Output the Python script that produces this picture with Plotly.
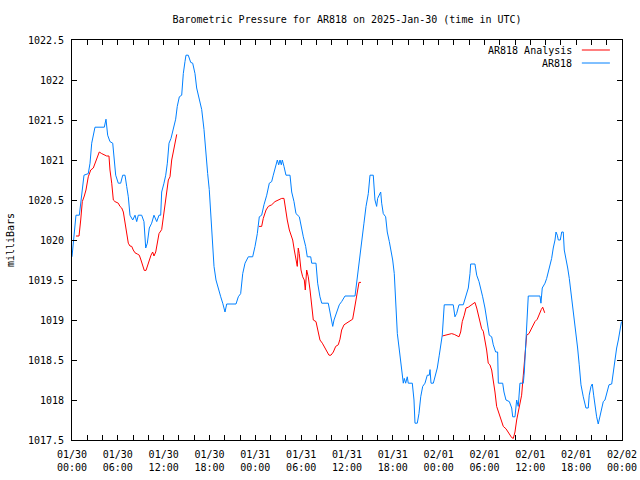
import pandas as pd
import plotly.graph_objects as go

BASE = pd.Timestamp("2025-01-30 00:00")

# AR818 observed pressure (hours since 2025-01-30 00:00 UTC, millibars)
obs_hours = [0.0, 0.30, 0.52, 0.96, 1.27, 1.57, 2.13, 2.36, 2.58, 2.79, 3.01, 4.23, 4.45, 4.67, 4.97, 5.33,
             5.54, 5.72, 6.06, 6.37, 6.64, 6.94, 7.16, 7.37, 7.59, 7.95, 8.25, 8.47, 8.68, 9.12, 9.42, 9.65,
             9.86, 10.12, 10.43, 10.73, 11.09, 11.39, 11.61, 11.74, 12.04, 12.27, 12.48, 12.70, 12.96, 13.26,
             13.57, 13.78, 14.05, 14.36, 14.57, 14.79, 14.92, 15.22, 15.54, 15.80, 16.10, 16.32, 16.66, 16.98,
             17.28, 17.54, 17.76, 17.97, 18.16, 18.29, 18.42, 18.59, 18.85, 19.15, 19.47, 19.73, 20.03, 20.25,
             21.47, 21.77, 22.08, 22.35, 22.65, 23.08, 23.65, 23.96, 24.26, 24.52, 24.83, 25.13, 25.49, 25.83,
             26.14, 26.35, 26.61, 26.88, 27.06, 27.23, 27.40, 27.53, 27.75, 28.01, 28.54, 28.76, 29.06, 29.32,
             29.76, 29.98, 30.28, 30.59, 30.80, 31.25, 31.38, 31.94, 32.16, 32.46, 32.69, 33.55, 33.77, 34.13,
             34.30, 34.65, 34.99, 35.30, 35.74, 37.05, 37.27, 37.57, 37.92, 38.22, 38.49, 38.79, 39.01, 39.44,
             39.66, 39.88, 40.01, 40.23, 40.41, 40.54, 40.75, 41.06, 41.27, 41.54, 41.76, 41.98, 42.19, 42.41,
             42.59, 42.85, 43.07, 43.20, 43.37, 43.50, 43.68, 43.89, 44.02, 44.55, 44.77, 44.90, 45.20, 45.42,
             45.65, 45.91, 46.21, 46.51, 46.77, 46.87, 47.00, 47.30, 47.52, 47.82, 48.08, 48.26, 48.47, 48.60,
             48.73, 49.91, 50.13, 50.35, 50.66, 51.22, 51.54, 51.88, 52.10, 52.19, 52.75, 52.98, 53.28, 53.54,
             53.76, 54.06, 54.36, 54.62, 54.94, 55.15, 55.46, 55.72, 55.81, 56.38, 56.55, 56.81, 57.25, 57.56,
             57.69, 57.99, 58.21, 58.42, 58.64, 59.08, 59.21, 59.39, 59.60, 59.73, 61.26, 61.39, 61.56, 61.92,
             62.14, 62.35, 62.57, 62.79, 63.00, 63.23, 63.36, 63.53, 63.66, 63.92, 64.11, 64.31, 64.44, 64.67,
             64.89, 65.10, 65.32, 65.54, 65.75, 65.97, 66.19, 66.40, 66.63, 66.93, 67.28, 67.58, 67.71, 67.94,
             68.11, 68.29, 68.46, 68.68, 68.89, 69.12, 69.34, 69.55, 69.77, 70.00, 70.30, 70.65, 70.86, 71.08,
             71.30, 71.52, 71.74, 71.93]
obs_mb = [1019.79, 1020.08, 1020.31, 1020.31, 1020.54, 1020.81, 1020.83, 1020.96, 1021.21, 1021.31, 1021.41,
          1021.41, 1021.51, 1021.31, 1021.23, 1021.21, 1021.00, 1020.81, 1020.71, 1020.71, 1020.81, 1020.81,
          1020.67, 1020.54, 1020.31, 1020.25, 1020.31, 1020.23, 1020.31, 1020.31, 1020.23, 1019.90, 1019.96,
          1020.15, 1020.21, 1020.31, 1020.23, 1020.31, 1020.31, 1020.60, 1020.71, 1020.81, 1020.96, 1021.21,
          1021.27, 1021.41, 1021.51, 1021.67, 1021.79, 1021.81, 1022.08, 1022.23, 1022.31, 1022.31, 1022.22,
          1022.21, 1022.08, 1021.90, 1021.75, 1021.63, 1021.38, 1021.04, 1020.83, 1020.63, 1020.35, 1020.10,
          1019.85, 1019.67, 1019.50, 1019.38, 1019.29, 1019.21, 1019.10, 1019.20, 1019.20, 1019.29, 1019.33,
          1019.58, 1019.71, 1019.79, 1019.79, 1019.92, 1020.08, 1020.29, 1020.31, 1020.44, 1020.56, 1020.71,
          1020.73, 1020.81, 1020.92, 1021.00, 1020.94, 1021.00, 1020.94, 1021.00, 1020.92, 1020.81, 1020.81,
          1020.60, 1020.48, 1020.33, 1020.29, 1020.17, 1020.04, 1019.92, 1019.79, 1019.79, 1019.71, 1019.71,
          1019.46, 1019.29, 1019.21, 1019.21, 1019.08, 1018.92, 1019.00, 1019.10, 1019.19, 1019.23, 1019.30,
          1019.30, 1019.46, 1019.71, 1020.00, 1020.21, 1020.42, 1020.58, 1020.81, 1020.81, 1020.50, 1020.42,
          1020.52, 1020.56, 1020.60, 1020.46, 1020.33, 1020.29, 1020.10, 1019.98, 1019.875, 1019.75, 1019.58,
          1019.08, 1018.83, 1018.625, 1018.46, 1018.35, 1018.21, 1018.27, 1018.21, 1018.29, 1018.21, 1018.21,
          1018.00, 1017.71, 1017.71, 1017.83, 1018.04, 1018.17, 1018.21, 1018.31, 1018.31, 1018.38, 1018.21,
          1018.21, 1018.29, 1018.40, 1018.56, 1018.69, 1018.81, 1019.00, 1019.19, 1019.19, 1019.04, 1019.08,
          1019.19, 1019.19, 1019.29, 1019.40, 1019.58, 1019.70, 1019.70, 1019.56, 1019.48, 1019.35, 1019.29,
          1019.15, 1018.98, 1018.81, 1018.79, 1018.69, 1018.60, 1018.60, 1018.21, 1018.21, 1018.10, 1018.00,
          1017.98, 1017.90, 1017.79, 1017.79, 1018.00, 1017.92, 1018.21, 1018.21, 1018.35, 1018.67, 1018.98,
          1019.30, 1019.30, 1019.21, 1019.40, 1019.46, 1019.52, 1019.60, 1019.71, 1019.77, 1019.90, 1020.00,
          1020.10, 1020.06, 1020.00, 1020.00, 1020.10, 1020.10, 1019.875, 1019.77, 1019.65, 1019.52, 1019.35,
          1019.19, 1019.02, 1018.85, 1018.65, 1018.44, 1018.19, 1018.04, 1017.90, 1017.90, 1018.06, 1018.17,
          1018.20, 1018.06, 1017.92, 1017.79, 1017.70, 1017.81, 1017.90, 1017.98, 1018.00, 1018.10, 1018.19,
          1018.20, 1018.35, 1018.52, 1018.65, 1018.75, 1018.85, 1018.98]

# AR818 analysis (three runs, gaps between them)
ana_hours = [0.52, 0.92, 1.14, 1.35, 1.61, 1.83, 2.13, 2.45, 2.79, 3.10, 3.36, 3.57, 3.89, 4.23, 4.54, 4.84,
             4.97, 5.20, 5.41, 5.63, 6.06, 6.28, 6.51, 6.72, 6.94, 7.16, 7.37, 7.59, 7.82, 8.02, 8.25, 8.55,
             8.81, 9.03, 9.25, 9.46, 9.69, 9.91, 10.12, 10.34, 10.56, 10.73, 10.96, 11.17, 11.39, 11.74, 11.95,
             12.21, 12.40, 12.61, 12.83, 13.05, 13.26, 13.48, 13.71,
             None,
             24.48, 24.83, 25.04, 25.40, 25.70, 26.14, 26.57, 27.01, 27.45, 27.75, 27.97, 28.18, 28.45, 28.67,
             28.89, 29.10, 29.32, 29.49, 29.62, 29.75, 29.98, 30.20, 30.41, 30.54, 30.72, 30.93, 31.16, 31.38,
             31.59, 31.94, 32.16, 32.46, 32.77, 33.12, 33.42, 33.64, 33.90, 34.21, 34.52, 34.86, 35.08, 35.30,
             35.61, 35.96, 36.39, 36.74, 36.95, 37.18, 37.35, 37.57, 37.83,
             None,
             48.47, 48.83, 49.26, 49.70, 50.04, 50.35, 50.66, 50.88, 51.09, 51.35, 51.58, 51.88, 52.19, 52.53,
             52.75, 52.98, 53.19, 53.41, 53.63, 53.84, 54.06, 54.28, 54.49, 54.71, 54.94, 55.15, 55.37, 55.59,
             55.81, 56.03, 56.25, 56.46, 56.81, 57.12, 57.34, 57.56, 57.77, 57.99, 58.21, 58.42, 58.64, 58.86,
             59.08, 59.21, 59.30, 59.39, 59.52, 59.82, 60.05, 60.31, 60.61, 60.91, 61.17, 61.43, 61.62, 61.79,
             61.88]
ana_mb = [1020.05, 1020.05, 1020.25, 1020.48, 1020.55, 1020.625, 1020.79, 1020.875, 1020.90, 1020.98, 1021.04,
          1021.10, 1021.08, 1021.06, 1021.05, 1021.05, 1020.875, 1020.71, 1020.50, 1020.48, 1020.46, 1020.42,
          1020.40, 1020.35, 1020.23, 1020.08, 1019.96, 1019.925, 1019.92, 1019.875, 1019.84, 1019.825, 1019.81,
          1019.75, 1019.69, 1019.62, 1019.62, 1019.69, 1019.75, 1019.81, 1019.85, 1019.80, 1019.85, 1019.98,
          1020.08, 1020.13, 1020.29, 1020.46, 1020.58, 1020.75, 1020.79, 1021.00, 1021.10, 1021.21, 1021.32,
          None,
          1020.17, 1020.17, 1020.27, 1020.375, 1020.42, 1020.44, 1020.48, 1020.50, 1020.52, 1020.52, 1020.375,
          1020.25, 1020.125, 1020.05, 1020.00, 1019.875, 1019.77, 1019.67, 1019.90, 1019.83, 1019.625, 1019.54,
          1019.50, 1019.375, 1019.625, 1019.54, 1019.375, 1019.21, 1019.00, 1018.98, 1018.875, 1018.75, 1018.71,
          1018.65, 1018.59, 1018.56, 1018.56, 1018.60, 1018.67, 1018.69, 1018.76, 1018.875, 1018.94, 1018.96,
          1018.98, 1019.01, 1019.125, 1019.25, 1019.375, 1019.47, 1019.47,
          None,
          1018.80, 1018.81, 1018.825, 1018.83, 1018.82, 1018.80, 1018.79, 1018.85, 1018.98, 1019.06, 1019.15,
          1019.16, 1019.18, 1019.20, 1019.22, 1019.15, 1019.06, 1018.96, 1018.89, 1018.86, 1018.75, 1018.625,
          1018.46, 1018.44, 1018.375, 1018.25, 1018.10, 1017.92, 1017.85, 1017.79, 1017.73, 1017.67, 1017.64,
          1017.60, 1017.56, 1017.53, 1017.52, 1017.60, 1017.75, 1017.85, 1017.96, 1018.06, 1018.31, 1018.46,
          1018.58, 1018.75, 1018.81, 1018.83, 1018.875, 1018.925, 1018.98, 1019.01, 1019.08, 1019.13, 1019.16,
          1019.125, 1019.09]

series_names = ["AR818 Analysis", "AR818"]
series_colors = ["#ff0000", "#0080ff"]


def to_time(hours):
    return [None if h is None else BASE + pd.Timedelta(hours=h) for h in hours]


FONT = "DejaVu Sans Mono"

fig = go.Figure()
fig.add_trace(go.Scatter(x=to_time(ana_hours), y=ana_mb, mode="lines", name=series_names[0],
                         line=dict(color=series_colors[0], width=1), connectgaps=False, hoverinfo="skip"))
fig.add_trace(go.Scatter(x=to_time(obs_hours), y=obs_mb, mode="lines", name=series_names[1],
                         line=dict(color=series_colors[1], width=1), hoverinfo="skip"))

# gnuplot-style key: text right-aligned, line sample to its right
key_rows = [0.975, 0.9425]
for name, color, ky in zip(series_names, series_colors, key_rows):
    fig.add_annotation(xref="paper", yref="paper", x=0.9127, y=ky, text=name, showarrow=False,
                       xanchor="right", yanchor="middle", font=dict(family=FONT, size=10, color="black"))
    fig.add_shape(type="line", xref="paper", yref="paper", x0=0.927, x1=0.978, y0=ky, y1=ky,
                  line=dict(color=color, width=1))

fig.update_layout(
    width=640, height=480,
    margin=dict(l=72, r=18, t=40, b=40, autoexpand=False),
    paper_bgcolor="white", plot_bgcolor="white",
    showlegend=False, hovermode=False,
    font=dict(family=FONT, size=10, color="black"),
    title=dict(text="Barometric Pressure for AR818 on 2025-Jan-30 (time in UTC)",
               x=0.5, xref="paper", y=1 - 19 / 480, yref="container", yanchor="middle",
               font=dict(family=FONT, size=10, color="black")),
)
fig.update_xaxes(
    type="date", automargin=False,
    range=[BASE, BASE + pd.Timedelta(hours=72)],
    dtick=6 * 3600 * 1000, tick0=BASE,
    tickformat="%m/%d<br>%H:%M",
    ticks="inside", ticklen=5, tickcolor="black", ticklabelstandoff=5,
    minor=dict(dtick=2 * 3600 * 1000, ticks="inside", ticklen=5, tickcolor="black"),
    showline=True, linecolor="black", linewidth=1, mirror="ticks",
    showgrid=False, zeroline=False,
    tickfont=dict(family=FONT, size=10, color="black"),
)
fig.update_yaxes(
    automargin=False,
    range=[1017.5, 1022.5], dtick=0.5, tick0=1017.5, tickformat=".5~g",
    ticks="inside", ticklen=5, tickcolor="black", ticklabelstandoff=5,
    showline=True, linecolor="black", linewidth=1, mirror="ticks",
    showgrid=False, zeroline=False,
    title=dict(text="milliBars", font=dict(family=FONT, size=10, color="black"), standoff=11),
    tickfont=dict(family=FONT, size=10, color="black"),
)

fig.write_html(
    "out.html",
    config={"displayModeBar": False, "staticPlot": True},
    post_script="document.body.style.margin='0';document.body.style.overflow='hidden';",
)
